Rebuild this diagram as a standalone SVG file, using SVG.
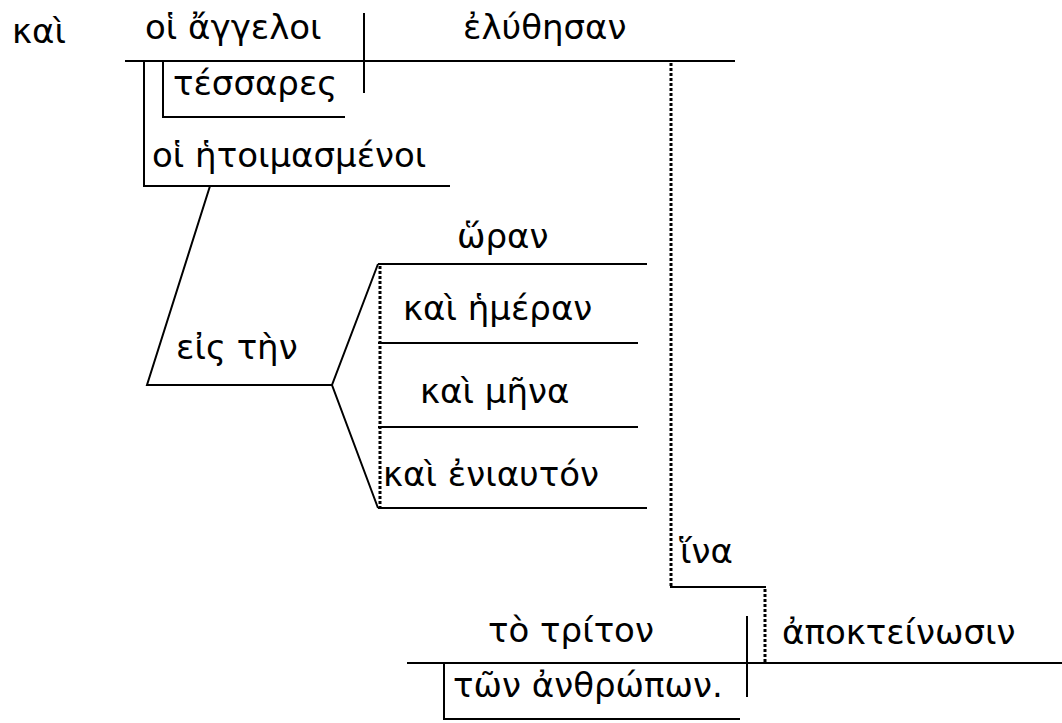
<svg xmlns="http://www.w3.org/2000/svg" width="1062" height="723" viewBox="0 0 1062 723">
<style>
text { font-family: "DejaVu Sans", "Noto Sans", sans-serif; font-size: 34px; fill: #000; }
.ln { stroke: #000; stroke-width: 2; fill: none; }
.dt { stroke: #000; stroke-width: 3; stroke-dasharray: 3 2; fill: none; }
</style>
<rect width="1062" height="723" fill="#fff"/>
<g id="connectors">
<path class="ln" d="M125 61 H735"/>
<path class="ln" d="M364 13 V93"/>
<path class="ln" d="M144 61 V186 H450"/>
<path class="ln" d="M163 61 V117 H345"/>
<path class="ln" d="M210 186 L147 385 H332"/>
<path class="ln" d="M378 264 L332 385 L378 508"/>
<path class="ln" d="M378 264 H647"/>
<path class="ln" d="M378 343 H638"/>
<path class="ln" d="M378 427 H638"/>
<path class="ln" d="M378 508 H647"/>
<path class="dt" d="M380 266 V507"/>
<path class="dt" d="M671 63 V586"/>
<path class="ln" d="M670 587 H766"/>
<path class="dt" d="M765 589 V662"/>
<path class="ln" d="M407 663 H1062"/>
<path class="ln" d="M747 616 V697"/>
<path class="ln" d="M444 663 V719 H740"/>
</g>
<g id="n-kai"><text x="12" y="43">καὶ</text></g>
<g id="n-angeloi"><text x="145" y="39">οἱ ἄγγελοι</text></g>
<g id="n-eluthesan"><text x="463" y="39">ἐλύθησαν</text></g>
<g id="n-tessares"><text x="173" y="95">τέσσαρες</text></g>
<g id="n-hetoimasmenoi"><text x="152" y="167">οἱ ἡτοιμασμένοι</text></g>
<g id="n-eis"><text x="176" y="359">εἰς τὴν</text></g>
<g id="n-horan"><text x="457" y="248">ὥραν</text></g>
<g id="n-hemeran"><text x="403" y="320">καὶ ἡμέραν</text></g>
<g id="n-mena"><text x="420" y="403">καὶ μῆνα</text></g>
<g id="n-eniauton"><text x="383" y="486">καὶ ἐνιαυτόν</text></g>
<g id="n-hina"><text x="680" y="563">ἵνα</text></g>
<g id="n-triton"><text x="488" y="642">τὸ τρίτον</text></g>
<g id="n-apokteinosin"><text x="782" y="644">ἀποκτείνωσιν</text></g>
<g id="n-anthropon"><text x="453" y="697">τῶν ἀνθρώπων.</text></g>
</svg>
